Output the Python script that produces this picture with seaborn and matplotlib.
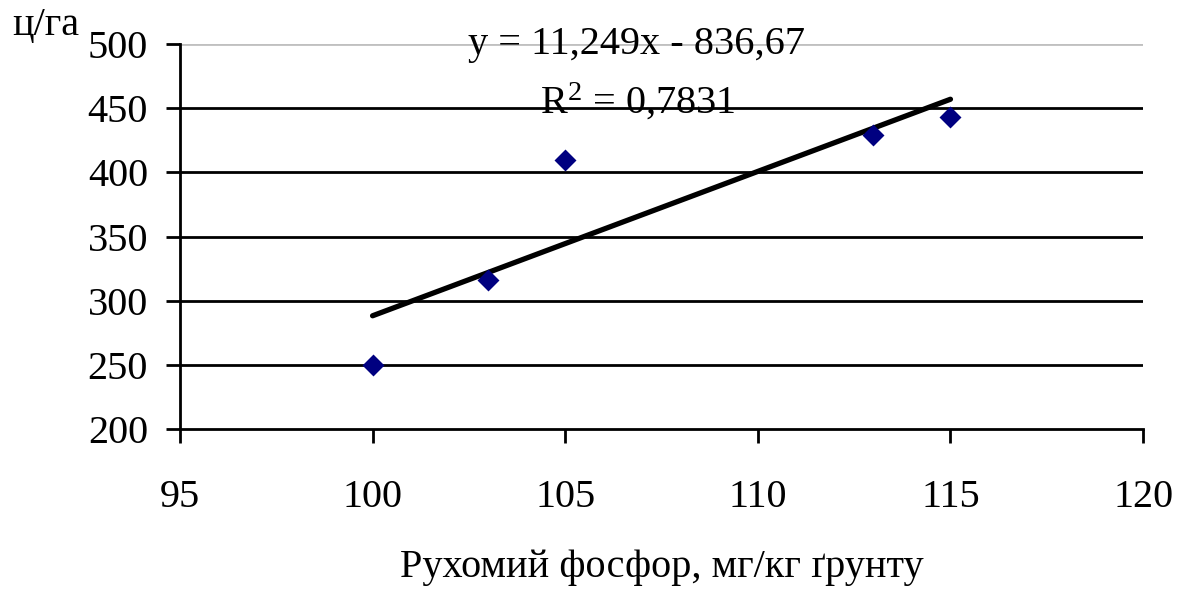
import matplotlib
matplotlib.use("Agg")
import matplotlib.pyplot as plt
import numpy as np
import pandas as pd
import seaborn as sns

# Mobile phosphorus content vs. yield
phosphorus = [100, 103, 105, 113, 115]
yield_cha = [250, 316, 410, 429, 443]

# Linear trend reported for the data
slope = 11.249
intercept = -836.67
r_squared = 0.7831

x_ticks = [95, 100, 105, 110, 115, 120]
y_ticks = [200, 250, 300, 350, 400, 450, 500]

sns.set_theme(style="ticks")
plt.rcParams["font.family"] = ["Liberation Serif", "DejaVu Serif"]
plt.rcParams["mathtext.fontset"] = "custom"
plt.rcParams["mathtext.rm"] = "Liberation Serif"
plt.rcParams["mathtext.it"] = "Liberation Serif:italic"

df = pd.DataFrame({"x": phosphorus, "y": yield_cha})

fig = plt.figure(figsize=(11.87, 5.90), dpi=100)
ax = fig.add_axes([0.1516, 0.2729, 0.8114, 0.6525])

# horizontal gridlines
for yv in y_ticks[1:]:
    ax.axhline(yv, color="#c0c0c0" if yv == y_ticks[-1] else "black",
               linewidth=2.0, zorder=1)

sns.scatterplot(data=df, x="x", y="y", marker="D", s=125, color="#000080",
                linewidth=0, ax=ax, zorder=3)

xt = np.array([min(phosphorus), max(phosphorus)])
sns.lineplot(x=xt, y=slope * xt + intercept, color="black", linewidth=3.8,
             ax=ax, zorder=2)

ax.set_xlim(95, 120)
ax.set_ylim(200, 500)
ax.set_xticks(x_ticks)
ax.set_yticks(y_ticks)
ax.xaxis.set_tick_params(which="major", bottom=True, direction="out",
                         length=10, width=2, color="black", pad=26,
                         labelsize=29, labelcolor="black")
ax.yaxis.set_tick_params(which="major", left=True, direction="out",
                         length=10, width=2, color="black", pad=13,
                         labelsize=29, labelcolor="black")

for side in ["top", "right"]:
    ax.spines[side].set_visible(False)
for side in ["left", "bottom"]:
    ax.spines[side].set_color("black")
    ax.spines[side].set_linewidth(2.0)

ax.set_xlabel("Рухомий фосфор, мг/кг ґрунту", fontsize=29, color="black",
              labelpad=24)
ax.set_ylabel("")
fig.text(0.010, 0.957, "ц/га", fontsize=29, color="black", va="center",
         ha="left")

eq = "y = {:.3f}x - {:.2f}".format(slope, -intercept).replace(".", ",")
fig.text(0.536, 0.925, eq, fontsize=29, ha="center", va="center",
         color="black")
fig.text(0.537, 0.827, "R$^{2}$ = " + "{:.4f}".format(r_squared).replace(".", ","),
         fontsize=29, ha="center", va="center", color="black")

fig.savefig("out.png", dpi=100, facecolor="white")
